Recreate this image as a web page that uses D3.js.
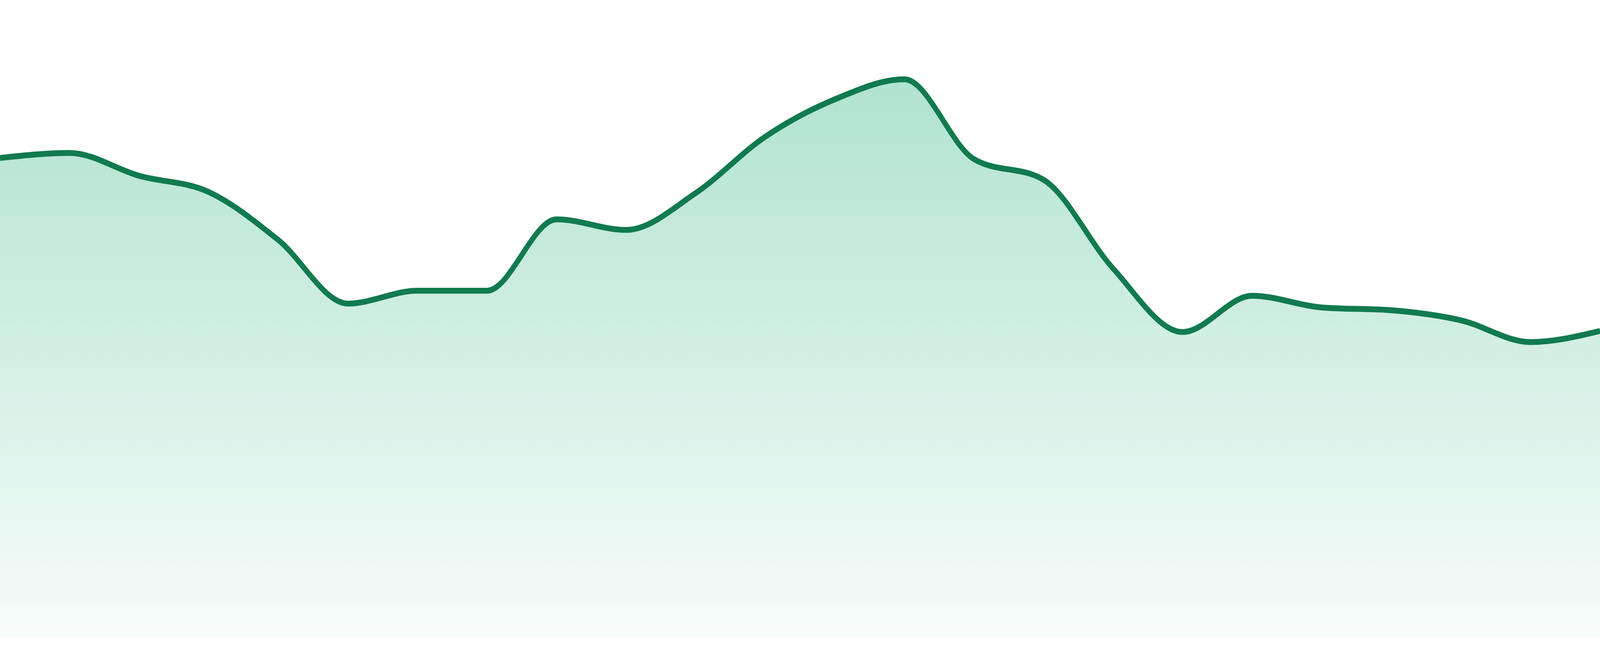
<!DOCTYPE html>
<html>
<head>
<meta charset="utf-8">
<script src="https://cdn.jsdelivr.net/npm/d3@7"></script>
<style>
  html, body { margin: 0; padding: 0; background: #fff; overflow: hidden; width: 100%; height: 100%; }
  #chart { width: 100vw; height: 100vh; }
  svg { display: block; width: 100%; height: 100%; }
</style>
</head>
<body>
<div id="chart"></div>
<script>
// data points, evenly spaced
const days = ['d01','d02','d03','d04','d05','d06','d07','d08','d09','d10','d11','d12',
              'd13','d14','d15','d16','d17','d18','d19','d20','d21','d22','d23','d24'];
const values = [85.9, 86.8, 82.7, 79.8, 71.2, 59.8, 62.1, 62.1, 74.9, 73.0, 79.6, 89.7,
                96.4, 100, 85.7, 82.0, 66.1, 54.7, 61.2, 59.1, 58.6, 56.8, 52.9, 54.9];
const yDomain = [0, 100];

const width = 4800;
const height = 1680;
const plotTop = 203;
const plotBottom = 1632;

// drawn in a fixed 4800x1680 space, stretched to the window
const svg = d3.select("#chart")
              .append("svg")
              .attr("viewBox", `0 0 ${width} ${height}`)
              .attr("preserveAspectRatio", "none");

const xScale = d3.scalePoint()
                 .domain(days)
                 .range([0, width]);

const yScale = d3.scaleLinear()
                 .domain(yDomain)
                 .range([plotBottom, plotTop]);

// fill gradient
const grad = svg.append("defs")
  .append("linearGradient")
  .attr("id", "fillGrad")
  .attr("gradientUnits", "userSpaceOnUse")
  .attr("x1", 0).attr("x2", 0)
  .attr("y1", yScale(d3.max(values)))
  .attr("y2", yScale(0));
grad.append("stop").attr("offset", "0%").attr("stop-color", "rgb(16,170,110)").attr("stop-opacity", 0.33);
grad.append("stop").attr("offset", "100%").attr("stop-color", "rgb(16,170,110)").attr("stop-opacity", 0.03);

const area = d3.area()
    .x((d, i) => xScale(days[i]))
    .y0(yScale(0))
    .y1(d => yScale(d))
    .curve(d3.curveMonotoneX);

const line = d3.line()
    .x((d, i) => xScale(days[i]))
    .y(d => yScale(d))
    .curve(d3.curveMonotoneX);

svg.append("path")
   .datum(values)
   .attr("d", area)
   .attr("fill", "url(#fillGrad)");

svg.append("path")
   .datum(values)
   .attr("d", line)
   .attr("fill", "none")
   .attr("stroke", "#117a4f")
   .attr("stroke-width", 15)
   .attr("stroke-linejoin", "round");
</script>
</body>
</html>
